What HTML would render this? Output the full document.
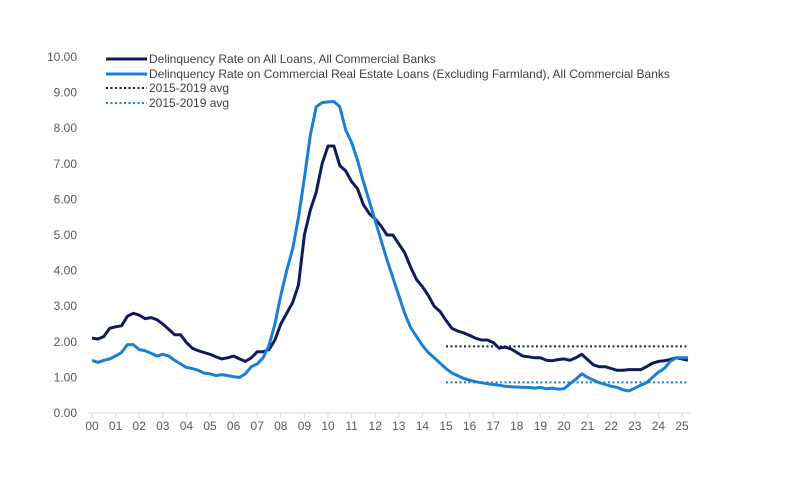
<!DOCTYPE html>
<html><head><meta charset="utf-8"><style>
body{margin:0;background:#fff;}
svg{display:block;font-family:"Liberation Sans",sans-serif;}
</style></head><body>
<svg id="chart" width="794" height="494">
<g id="yaxis"></g>
<g id="xaxis"></g>
<g id="series"></g>
<g id="legend"></g>
</svg>
<script>
const yTicks=[0,1,2,3,4,5,6,7,8,9,10];
const xLabels=["00","01","02","03","04","05","06","07","08","09","10","11","12","13","14","15","16","17","18","19","20","21","22","23","24","25"];
const allLoans=[2.1,2.08,2.15,2.38,2.42,2.45,2.72,2.8,2.75,2.65,2.68,2.62,2.5,2.35,2.2,2.2,1.98,1.82,1.75,1.7,1.65,1.58,1.52,1.55,1.6,1.52,1.45,1.55,1.72,1.72,1.78,2.05,2.5,2.8,3.1,3.6,5.0,5.7,6.2,7.0,7.5,7.5,6.95,6.8,6.5,6.3,5.85,5.6,5.45,5.25,5.0,5.0,4.75,4.5,4.1,3.75,3.55,3.3,3.0,2.85,2.6,2.38,2.3,2.25,2.18,2.1,2.05,2.05,1.98,1.82,1.85,1.8,1.7,1.6,1.58,1.55,1.55,1.48,1.47,1.5,1.52,1.48,1.55,1.65,1.5,1.35,1.3,1.3,1.25,1.2,1.2,1.22,1.22,1.22,1.3,1.4,1.45,1.47,1.5,1.55,1.52,1.48];
const creLoans=[1.48,1.42,1.48,1.52,1.6,1.7,1.92,1.92,1.78,1.75,1.68,1.6,1.65,1.6,1.48,1.38,1.28,1.25,1.2,1.12,1.1,1.05,1.08,1.05,1.02,1.0,1.1,1.3,1.38,1.55,1.9,2.5,3.3,4.0,4.6,5.5,6.6,7.8,8.6,8.72,8.74,8.75,8.6,7.95,7.6,7.1,6.5,5.95,5.4,4.85,4.3,3.8,3.3,2.8,2.4,2.15,1.9,1.7,1.55,1.4,1.25,1.12,1.05,0.97,0.92,0.88,0.85,0.82,0.8,0.78,0.75,0.74,0.73,0.72,0.72,0.7,0.72,0.68,0.7,0.67,0.68,0.82,0.95,1.1,1.0,0.92,0.85,0.8,0.75,0.72,0.65,0.62,0.7,0.78,0.85,1.0,1.15,1.25,1.45,1.55,1.55,1.55];
const avgAll=[1.87];
const avgCre=[0.86];
const avgRange=[15,25.3];
const legendLabels=["Delinquency Rate on All Loans, All Commercial Banks","Delinquency Rate on Commercial Real Estate Loans (Excluding Farmland), All Commercial Banks","2015-2019 avg","2015-2019 avg"];

const NS="http://www.w3.org/2000/svg";
const y=v=>413-v*35.6;
const x=t=>92+t*23.6;
function mk(tag,attrs,parent){const e=document.createElementNS(NS,tag);for(const k in attrs)e.setAttribute(k,attrs[k]);parent.appendChild(e);return e;}
const ya=document.getElementById('yaxis'),xa=document.getElementById('xaxis'),se=document.getElementById('series'),lg=document.getElementById('legend');
yTicks.forEach(v=>{const t=mk('text',{x:77,y:y(v)+4,'text-anchor':'end','font-size':12,fill:'#595959'},ya);t.textContent=v.toFixed(2);

});
const ax=mk('line',{x1:88,x2:691,y1:413,y2:413,stroke:'#d9d9d9','stroke-width':1},xa);


xLabels.forEach((l,i)=>{const tk=mk('line',{x1:x(i),x2:x(i),y1:413,y2:418,stroke:'#d9d9d9'},xa);


const t=mk('text',{x:x(i),y:430,'text-anchor':'middle','font-size':12,fill:'#595959'},xa);t.textContent=l;

});
function line(data,color,name){const p=data.map((v,i)=>(i?'L':'M')+x(i/4).toFixed(1)+','+y(v).toFixed(1)).join('');
const e=mk('path',{d:p,fill:'none',stroke:color,'stroke-width':3,'stroke-linejoin':'round'},se);

}
function avg(v,color,name){const e=mk('line',{x1:x(avgRange[0]),x2:x(avgRange[1]),y1:y(v),y2:y(v),stroke:color,'stroke-width':2,'stroke-dasharray':'2 2.5'},se);

}
avg(avgAll[0],'#0d1c5b','avg-all-loans');
avg(avgCre[0],'#1a80d4','avg-cre-loans');
line(allLoans,'#0d1c5b','all-loans-line');
line(creLoans,'#1a80d4','cre-loans-line');
const lc=['#0d1c5b','#1a80d4','#0d1c5b','#1a80d4'];const ly=[59,74,88,103];
legendLabels.forEach((l,i)=>{const s=mk('line',{x1:106,x2:147,y1:ly[i],y2:ly[i],stroke:lc[i],'stroke-width':i<2?3:2},lg);
if(i>=2)s.setAttribute('stroke-dasharray','2 2.5');


const t=mk('text',{x:149,y:ly[i]+4,'font-size':12,fill:'#404040'},lg);t.textContent=l;

});
</script>
</body></html>
